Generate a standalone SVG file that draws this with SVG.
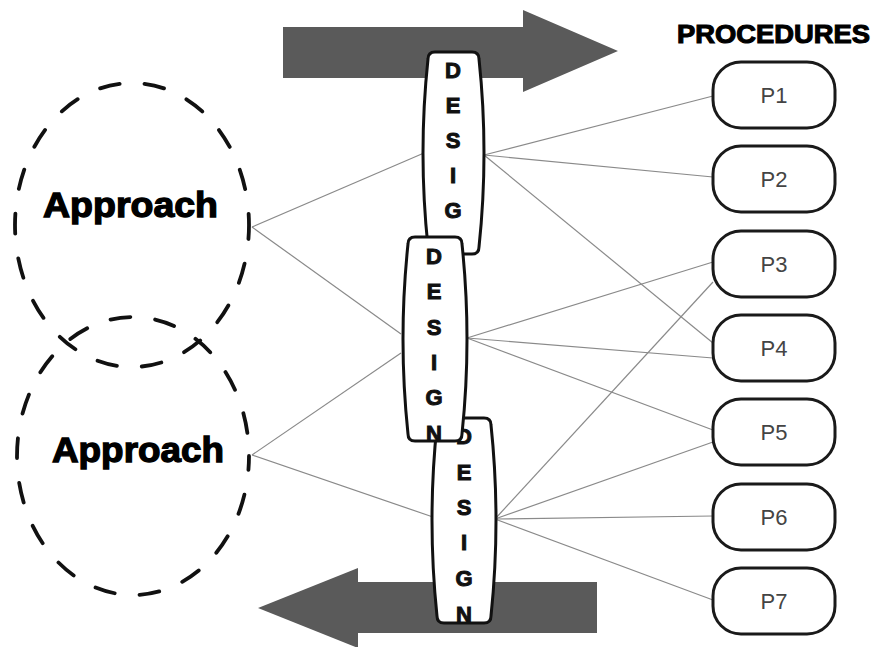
<svg xmlns="http://www.w3.org/2000/svg" width="874" height="647" viewBox="0 0 874 647">
  <style>
    .arrow { fill: #5a5a5a; }
    .scope { fill: none; stroke: #111; stroke-width: 3.8; stroke-dasharray: 20 25; stroke-linecap: round; }
    .scope-label { font-family: "Liberation Sans", Arial, sans-serif; font-weight: bold; font-size: 35px; fill: #000; stroke: #000; stroke-width: 1.3; }
    .link { stroke: #8a8a8a; stroke-width: 1.2; fill: none; }
    .design { fill: #fff; stroke: #111; stroke-width: 3; stroke-linejoin: round; }
    .letter { font-family: "Liberation Sans", Arial, sans-serif; font-weight: bold; font-size: 22px; fill: #111; stroke: #111; stroke-width: 1; text-anchor: middle; }
    .proc { fill: #fff; stroke: #1a1a1a; stroke-width: 3; }
    .proc-label { font-family: "Liberation Sans", Arial, sans-serif; font-size: 22px; fill: #444; text-anchor: middle; }
    .heading { font-family: "Liberation Sans", Arial, sans-serif; font-weight: bold; font-size: 26px; fill: #000; stroke: #000; stroke-width: 1.1; }
  </style>

  <rect width="874" height="647" fill="#fff"/>

  <!-- flow arrows -->
  <g id="arrow-forward">
    <polygon class="arrow" points="283,27 523,27 523,10 618,51 523,92 523,78 283,78"/>
  </g>
  <g id="arrow-back">
    <polygon class="arrow" points="597,582 358,582 358,568 258,608 358,648 358,633 597,633"/>
  </g>

  <!-- approach scopes -->
  <g id="approach-1">
    <ellipse class="scope" cx="132" cy="225" rx="117" ry="142" stroke-dashoffset="6"/>
    <text class="scope-label" x="43" y="217" textLength="175" lengthAdjust="spacingAndGlyphs">Approach</text>
  </g>
  <g id="approach-2">
    <ellipse class="scope" cx="133" cy="456" rx="116" ry="139" stroke-dashoffset="6"/>
    <text class="scope-label" x="52" y="462" textLength="172" lengthAdjust="spacingAndGlyphs">Approach</text>
  </g>

  <!-- connectors -->
  <g id="connectors">
    <line class="link" x1="252" y1="227" x2="424" y2="153"/>
    <line class="link" x1="252" y1="227" x2="401" y2="334"/>
    <line class="link" x1="252" y1="455" x2="401" y2="353"/>
    <line class="link" x1="252" y1="455" x2="433" y2="517"/>

    <line class="link" x1="484" y1="155" x2="713" y2="96"/>
    <line class="link" x1="484" y1="155" x2="713" y2="177"/>
    <line class="link" x1="484" y1="155" x2="713" y2="343"/>

    <line class="link" x1="467" y1="338" x2="713" y2="262"/>
    <line class="link" x1="467" y1="338" x2="713" y2="358"/>
    <line class="link" x1="467" y1="338" x2="713" y2="430"/>

    <line class="link" x1="495" y1="519" x2="713" y2="282"/>
    <line class="link" x1="495" y1="519" x2="713" y2="442"/>
    <line class="link" x1="495" y1="519" x2="713" y2="516"/>
    <line class="link" x1="495" y1="519" x2="713" y2="600"/>
  </g>

  <!-- design stages -->
  <g id="design-1">
    <path class="design" d="M435,52 H472 Q479,52 479,59 Q489,153 479,247 Q479,254 472,254 H435 Q428,254 428,247 Q418,153 428,59 Q428,52 435,52 Z"/>
    <text class="letter" x="453" y="78">D</text>
    <text class="letter" x="453" y="113">E</text>
    <text class="letter" x="453" y="148">S</text>
    <text class="letter" x="453" y="183">I</text>
    <text class="letter" x="453" y="218">G</text>
  </g>
  <g id="design-3">
    <path class="design" d="M444,418 H484 Q491,418 491,425 Q501,520 491,616 Q491,623 484,623 H444 Q437,623 437,616 Q427,520 437,425 Q437,418 444,418 Z"/>
    <text class="letter" x="464" y="444">D</text>
    <text class="letter" x="464" y="480">E</text>
    <text class="letter" x="464" y="515">S</text>
    <text class="letter" x="464" y="550">I</text>
    <text class="letter" x="464" y="586">G</text>
    <text class="letter" x="464" y="622">N</text>
  </g>
  <g id="design-2">
    <path class="design" d="M415,237 H455 Q462,237 462,244 Q472,339 462,434 Q462,441 455,441 H415 Q408,441 408,434 Q398,339 408,244 Q408,237 415,237 Z"/>
    <text class="letter" x="434" y="264">D</text>
    <text class="letter" x="434" y="299">E</text>
    <text class="letter" x="434" y="335">S</text>
    <text class="letter" x="434" y="370">I</text>
    <text class="letter" x="434" y="405">G</text>
    <text class="letter" x="434" y="441">N</text>
  </g>

  <!-- procedures -->
  <text id="procedures-heading" class="heading" x="677" y="43" textLength="193" lengthAdjust="spacingAndGlyphs">PROCEDURES</text>
  <g id="p1"><rect class="proc" x="713" y="62" width="122" height="66" rx="28"/><text class="proc-label" x="774" y="103">P1</text></g>
  <g id="p2"><rect class="proc" x="713" y="146" width="122" height="66" rx="28"/><text class="proc-label" x="774" y="187">P2</text></g>
  <g id="p3"><rect class="proc" x="713" y="231" width="122" height="66" rx="28"/><text class="proc-label" x="774" y="272">P3</text></g>
  <g id="p4"><rect class="proc" x="713" y="315" width="122" height="66" rx="28"/><text class="proc-label" x="774" y="356">P4</text></g>
  <g id="p5"><rect class="proc" x="713" y="399" width="122" height="66" rx="28"/><text class="proc-label" x="774" y="440">P5</text></g>
  <g id="p6"><rect class="proc" x="713" y="484" width="122" height="66" rx="28"/><text class="proc-label" x="774" y="525">P6</text></g>
  <g id="p7"><rect class="proc" x="713" y="568" width="122" height="66" rx="28"/><text class="proc-label" x="774" y="609">P7</text></g>
</svg>
